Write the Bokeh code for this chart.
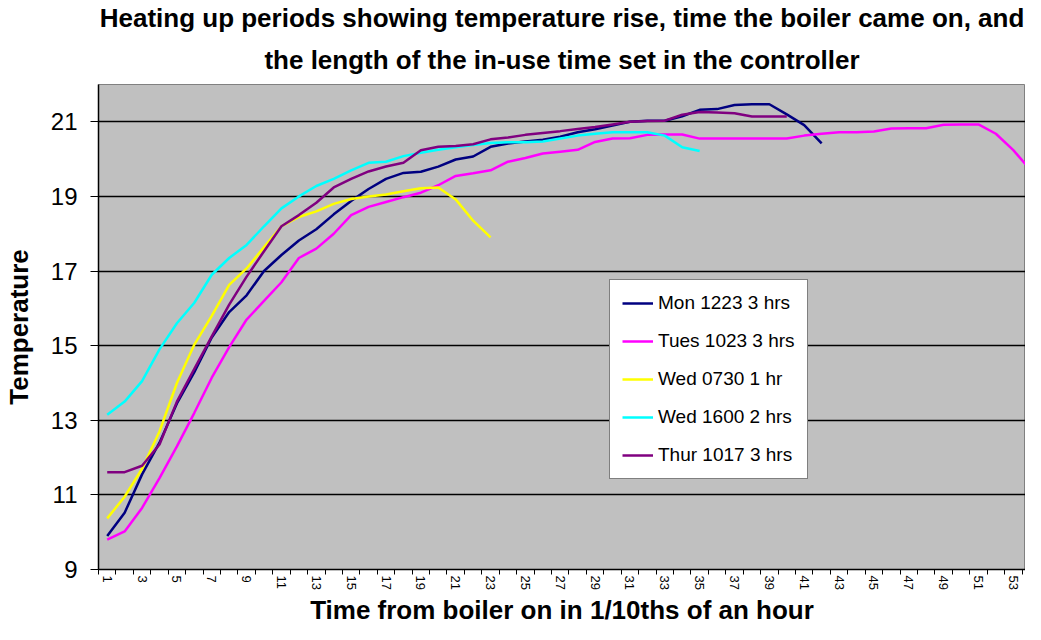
from bokeh.plotting import figure
from bokeh.models import Title, FixedTicker, Range1d, Legend, LegendItem
from bokeh.embed import file_html
from bokeh.resources import INLINE

# ---- data ----
periods = list(range(1, 55))          # time from boiler on, 1/10ths of an hour
tick_labels = list(range(1, 54, 2))   # labelled categories on the x axis
y_ticks = [9, 11, 13, 15, 17, 19, 21]

mon_1223 = [9.90, 10.52, 11.55, 12.40, 13.45, 14.29, 15.22, 15.90, 16.35, 17.00,
            17.43, 17.82, 18.12, 18.52, 18.88, 19.20, 19.47, 19.63, 19.66, 19.80,
            19.99, 20.07, 20.33, 20.42, 20.47, 20.52, 20.60, 20.72, 20.80, 20.90,
            21.00, 21.03, 21.03, 21.15, 21.32, 21.34, 21.45, 21.47, 21.47, 21.20,
            20.91, 20.42]
tues_1023 = [9.80, 10.02, 10.65, 11.45, 12.30, 13.20, 14.14, 14.96, 15.70, 16.20,
             16.70, 17.35, 17.60, 18.00, 18.50, 18.72, 18.85, 18.98, 19.10, 19.30,
             19.55, 19.62, 19.70, 19.93, 20.03, 20.15, 20.20, 20.25, 20.46, 20.55,
             20.56, 20.65, 20.66, 20.66, 20.55, 20.55, 20.55, 20.55, 20.55, 20.55,
             20.63, 20.68, 20.72, 20.72, 20.74, 20.82, 20.83, 20.83, 20.92, 20.93,
             20.93, 20.68, 20.24, 19.70]
wed_0730 = [10.37, 10.95, 11.70, 12.70, 14.00, 15.03, 15.80, 16.63, 17.07, 17.64,
            18.20, 18.45, 18.60, 18.80, 18.93, 19.00, 19.05, 19.14, 19.22, 19.24,
            18.92, 18.35, 17.90]
wed_1600 = [13.15, 13.50, 14.05, 14.90, 15.60, 16.15, 16.90, 17.35, 17.70, 18.20,
            18.68, 19.00, 19.28, 19.47, 19.70, 19.90, 19.93, 20.08, 20.17, 20.25,
            20.32, 20.38, 20.43, 20.45, 20.45, 20.47, 20.55, 20.63, 20.68, 20.72,
            20.72, 20.72, 20.63, 20.32, 20.22]
thur_1017 = [11.61, 11.61, 11.78, 12.35, 13.50, 14.38, 15.25, 16.10, 16.85, 17.53,
             18.20, 18.50, 18.83, 19.24, 19.47, 19.67, 19.80, 19.90, 20.24, 20.33,
             20.35, 20.40, 20.53, 20.58, 20.65, 20.70, 20.75, 20.81, 20.86, 20.93,
             21.00, 21.02, 21.03, 21.19, 21.26, 21.25, 21.23, 21.14, 21.14, 21.14]

series_names = ["Mon 1223 3 hrs", "Tues 1023 3 hrs", "Wed 0730 1 hr",
                "Wed 1600 2 hrs", "Thur 1017 3 hrs"]
series_values = [mon_1223, tues_1023, wed_0730, wed_1600, thur_1017]
series_colors = ["#000080", "#FF00FF", "#FFFF00", "#00FFFF", "#800080"]

title_line1 = "Heating up periods showing temperature rise, time the boiler came on, and"
title_line2 = "the length of the in-use time set in the controller"
x_title = "Time from boiler on in 1/10ths of an hour"
y_title = "Temperature"

FONT = "Liberation Sans"

p = figure(width=1025, height=624, title=None, output_backend="svg",
           toolbar_location=None,
           x_range=Range1d(0.5, 53.7), y_range=Range1d(9, 22),
           min_border_left=93, min_border_right=0, min_border_top=0,
           min_border_bottom=0)
p.border_fill_color = "#FFFFFF"
p.background_fill_color = "#C0C0C0"
p.outline_line_color = "#808080"
p.outline_line_width = 1

# titles (second line added first so that it sits nearest the plot)
t2 = Title(text=title_line2, align="center", text_font=FONT,
           text_font_size="26px", text_font_style="bold", text_color="#000000",
           standoff=20, offset=0)
t1 = Title(text=title_line1, align="center", text_font=FONT,
           text_font_size="26px", text_font_style="bold", text_color="#000000",
           standoff=0, offset=0)
p.add_layout(t2, "above")
p.add_layout(t1, "above")

renderers = []
for name, vals, col in zip(series_names, series_values, series_colors):
    r = p.line(periods[:len(vals)], vals, line_color=col, line_width=2.5)
    renderers.append((name, r))

# x axis
p.xaxis.ticker = FixedTicker(ticks=tick_labels,
                             minor_ticks=[k + 0.5 for k in range(0, 54)])
p.xaxis.major_tick_line_color = None
p.xaxis.major_tick_out = 5
p.xaxis.major_tick_in = 0
p.xaxis.minor_tick_out = 5
p.xaxis.minor_tick_in = 0
p.xaxis.minor_tick_line_color = "#000000"
p.xaxis.axis_line_color = "#000000"
p.xaxis.axis_line_width = 1.5
p.xaxis.major_label_orientation = "vertical"
p.xaxis.major_label_text_font = FONT
p.xaxis.major_label_text_font_size = "13px"
p.xaxis.major_label_text_color = "#000000"
p.xaxis.major_label_standoff = 1

# x-axis title as a panel below the axis
xt = Title(text=x_title, align="center", vertical_align="bottom", text_font=FONT,
           text_font_size="26px", text_font_style="bold", text_color="#000000",
           standoff=0, offset=0)
p.add_layout(xt, "below")

# y axis
p.yaxis.ticker = FixedTicker(ticks=y_ticks, minor_ticks=[])
p.yaxis.major_tick_out = 8
p.yaxis.major_tick_in = 0
p.yaxis.major_tick_line_color = "#000000"
p.yaxis.axis_line_color = "#000000"
p.yaxis.axis_line_width = 1.5
p.yaxis.major_label_text_font = FONT
p.yaxis.major_label_text_font_size = "24px"
p.yaxis.major_label_text_color = "#000000"
p.yaxis.major_label_standoff = 13
p.yaxis.axis_label = y_title
p.yaxis.axis_label_text_font = FONT
p.yaxis.axis_label_text_font_size = "26px"
p.yaxis.axis_label_text_font_style = "bold"
p.yaxis.axis_label_text_color = "#000000"
p.yaxis.axis_label_standoff = 14

# grid
p.xgrid.grid_line_color = None
p.ygrid.ticker = FixedTicker(ticks=y_ticks)
p.ygrid.grid_line_color = "#000000"
p.ygrid.grid_line_width = 1.5

legend = Legend(items=[LegendItem(label=n, renderers=[r]) for n, r in renderers],
                location=(511, 90), margin=0, padding=12, spacing=16,
                glyph_width=31, glyph_height=20, label_standoff=5,
                label_text_font=FONT, label_text_font_size="19px",
                label_text_color="#000000",
                border_line_color="#000000", border_line_width=1,
                background_fill_color="#FFFFFF", background_fill_alpha=1.0)
p.add_layout(legend)

open("out.html", "w").write(file_html(p, INLINE))
